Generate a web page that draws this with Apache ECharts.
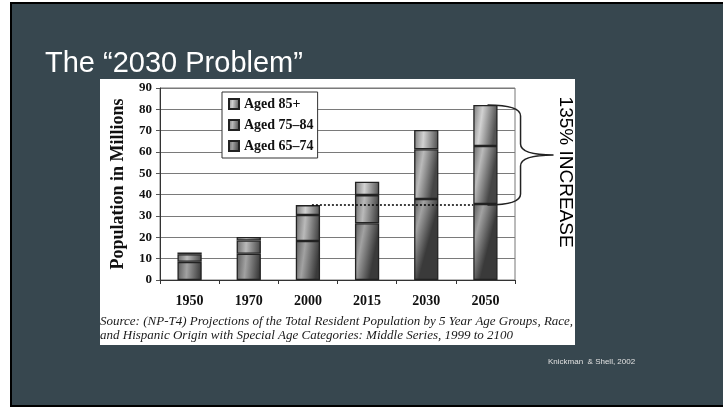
<!DOCTYPE html>
<html>
<head>
<meta charset="utf-8">
<script src="https://cdn.jsdelivr.net/npm/echarts@6/dist/echarts.min.js"></script>
<style>
html,body{margin:0;padding:0;background:#ffffff;}
#c{width:723px;height:409px;}
</style>
</head>
<body>
<div id="c"></div>
<script>
// ---- data ----
const years = ['1950', '1970', '2000', '2015', '2030', '2050'];
const aged6574 = [8.5, 12.3, 18.3, 26.6, 38.0, 35.6];
const aged7584 = [3.6, 6.2, 12.2, 13.2, 23.3, 27.2];
const aged85p  = [0.8, 1.7, 4.6, 6.3, 9.0, 19.2];
const yTicks = { min: 0, max: 90, interval: 10 };
const titleText = 'The \u201C2030 Problem\u201D';
const increaseText = '135% INCREASE';
const sourceLines = [
  'Source: (NP-T4) Projections of the Total Resident Population by 5 Year Age Groups, Race,',
  'and Hispanic Origin with Special Age Categories: Middle Series, 1999 to 2100'
];
const creditText = 'Knickman  & Shell, 2002';

// ---- derived annotation values ----
const total = i => aged6574[i] + aged7584[i] + aged85p[i];
const fromIdx = 2, toIdx = 5;
const annot = [[fromIdx, toIdx, total(fromIdx), total(toIdx)]];

function grad(c0, c1, c2) {
  return new echarts.graphic.LinearGradient(0, 0, 1, 0.08, [
    { offset: 0, color: c0 }, { offset: 0.4, color: c1 }, { offset: 1, color: c2 }
  ]);
}
const serif = '"Liberation Serif", "Times New Roman", serif';
const sans = '"Liberation Sans", Arial, sans-serif';

const chart = echarts.init(document.getElementById('c'), null, { renderer: 'canvas' });

const barStyle = (g) => ({ color: g, borderColor: '#222', borderWidth: 1.3 });

chart.setOption({
  animation: false,
  backgroundColor: 'transparent',
  graphic: [
    { type: 'rect', z: -20, shape: { x: 0, y: 0, width: 723, height: 409 }, style: { fill: '#ffffff' } },
    { type: 'rect', z: -19, shape: { x: 11, y: 3, width: 716, height: 403 }, style: { fill: '#37474f', stroke: '#000', lineWidth: 2 } },
    { type: 'rect', z: -18, shape: { x: 100, y: 79, width: 475, height: 266 }, style: { fill: '#ffffff' } },
    { type: 'text', z: 10, x: 45, y: 64, style: { text: titleText, fill: '#ffffff', font: '29px ' + sans, textVerticalAlign: 'middle' } },
    { type: 'text', z: 10, x: 100, y: 322, style: { text: sourceLines[0], fill: '#1a1a1a', font: 'italic 13px ' + serif, textVerticalAlign: 'middle' } },
    { type: 'text', z: 10, x: 100, y: 336, style: { text: sourceLines[1], fill: '#1a1a1a', font: 'italic 13px ' + serif, textVerticalAlign: 'middle' } },
    { type: 'text', z: 10, x: 548, y: 362, style: { text: creditText, fill: '#e0e0e0', font: '8px ' + sans, textVerticalAlign: 'middle' } }
  ],
  grid: { left: 160, right: 208, top: 88, bottom: 129, show: true, borderColor: '#777', borderWidth: 1, backgroundColor: 'transparent' },
  legend: {
    data: ['Aged 85+', 'Aged 75\u201384', 'Aged 65\u201374'],
    orient: 'vertical', left: 222, top: 92,
    itemWidth: 10, itemHeight: 10, itemGap: 7,
    padding: [5, 4, 5, 6],
    backgroundColor: '#ffffff', borderColor: '#333', borderWidth: 1,
    icon: 'rect',
    textStyle: { fontFamily: serif, fontWeight: 'bold', fontSize: 14, color: '#111' }
  },
  xAxis: {
    type: 'category', data: years,
    axisLine: { lineStyle: { color: '#333', width: 1 } },
    axisTick: { show: true, length: 4, lineStyle: { color: '#333' } },
    axisLabel: { fontFamily: serif, fontWeight: 'bold', fontSize: 14, color: '#111', margin: 14 }
  },
  yAxis: {
    type: 'value', min: yTicks.min, max: yTicks.max, interval: yTicks.interval,
    name: 'Population in Millions', nameLocation: 'middle', nameGap: 33, nameRotate: 90,
    nameTextStyle: { fontFamily: serif, fontWeight: 'bold', fontSize: 18, color: '#111' },
    axisLine: { show: true, lineStyle: { color: '#333', width: 1 } },
    axisTick: { show: true, length: 4, lineStyle: { color: '#555' } },
    axisLabel: { fontFamily: serif, fontWeight: 'bold', fontSize: 13, color: '#111', margin: 8 },
    splitLine: { lineStyle: { color: '#7a7a7a', width: 1 } }
  },
  series: [
    { name: 'Aged 65\u201374', type: 'bar', stack: 'pop', barWidth: '41%', data: aged6574,
      itemStyle: barStyle(grad('#5a5a5a', '#a2a2a2', '#3a3a3a')) },
    { name: 'Aged 75\u201384', type: 'bar', stack: 'pop', data: aged7584,
      itemStyle: barStyle(grad('#6a6a6a', '#bababa', '#464646')) },
    { name: 'Aged 85+', type: 'bar', stack: 'pop', data: aged85p,
      itemStyle: barStyle(grad('#7a7a7a', '#d2d2d2', '#545454')) },
    {
      type: 'custom', z: 5, silent: true, data: annot,
      renderItem: function (params, api) {
        const i0 = api.value(0), i1 = api.value(1), v0 = api.value(2), v1 = api.value(3);
        const band = api.size([1, 0])[0];
        const bw = band * 0.41;
        const pStart = api.coord([i0, v0]);
        const pEnd = api.coord([i1, v0]);
        const pTop = api.coord([i1, v1]);
        const xL = pEnd[0] + bw / 2 - 10;
        const xV = xL + 33;
        const xT = xL + 66;
        const yT = pTop[1], yB = pEnd[1], yM = (yT + yB) / 2;
        const r = 11;
        const d = 'M' + xL + ' ' + yT +
          ' Q' + xV + ' ' + yT + ' ' + xV + ' ' + (yT + r) +
          ' L' + xV + ' ' + (yM - r) +
          ' Q' + xV + ' ' + yM + ' ' + xT + ' ' + yM +
          ' Q' + xV + ' ' + yM + ' ' + xV + ' ' + (yM + r) +
          ' L' + xV + ' ' + (yB - r) +
          ' Q' + xV + ' ' + yB + ' ' + xL + ' ' + yB;
        return {
          type: 'group',
          children: [
            { type: 'line', shape: { x1: pStart[0] + 4, y1: pStart[1], x2: pEnd[0] - bw / 2, y2: pEnd[1] },
              style: { stroke: '#000', lineWidth: 1.5, lineDash: [2, 2] } },
            { type: 'path', shape: { pathData: d }, style: { stroke: '#222', lineWidth: 1.5, fill: null } },
            { type: 'text', x: xT + 12, y: yT + 67, rotation: -Math.PI / 2,
              style: { text: increaseText, font: '19px ' + sans, fill: '#000', textAlign: 'center', textVerticalAlign: 'middle' } }
          ]
        };
      }
    }
  ]
});
</script>
</body>
</html>
